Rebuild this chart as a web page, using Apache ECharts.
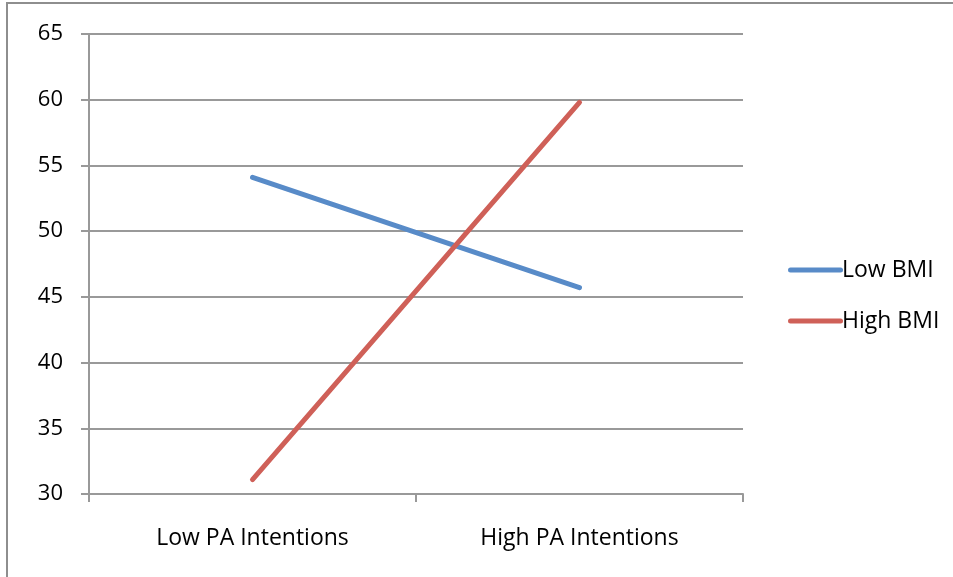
<!DOCTYPE html>
<html>
<head>
<meta charset="utf-8">
<script src="https://cdn.jsdelivr.net/npm/echarts@6/dist/echarts.min.js"></script>
<style>html,body{margin:0;padding:0;background:#fff;}#chart{width:953px;height:577px;}</style>
</head>
<body>
<div id="chart"></div>
<script>
var categories = ["Low PA Intentions", "High PA Intentions"];
var lowBMI = [54.1, 45.7];
var highBMI = [31.1, 59.8];
var seriesNames = ["Low BMI", "High BMI"];

var FONT = "Open Sans";
var chart = echarts.init(document.getElementById('chart'), null, {renderer: 'canvas'});
var axisGray = '#999999';
chart.setOption({
  animation: false,
  backgroundColor: '#ffffff',
  graphic: [{
    type: 'rect', silent: true, z: -1,
    shape: {x: 7, y: 3, width: 1000, height: 700},
    style: {fill: 'none', stroke: '#8e8e8e', lineWidth: 2}
  }],
  grid: {left: 89, top: 34, right: 210, bottom: 83, containLabel: false},
  legend: {
    orient: 'vertical', left: 783, top: 252,
    itemWidth: 55, itemHeight: 5, itemGap: 25,
    icon: 'path://M2.5,0 L52.5,0 A2.5,2.5 0 0 1 52.5,5 L2.5,5 A2.5,2.5 0 0 1 2.5,0 Z',
    textStyle: {fontFamily: FONT, fontSize: 23, color: '#000', lineHeight: 26, padding: [0,0,0,-6]},
    data: seriesNames
  },
  xAxis: {
    type: 'category', data: categories, boundaryGap: true,
    axisLine: {lineStyle: {color: axisGray, width: 2}},
    axisTick: {show: true, length: 8, lineStyle: {color: axisGray, width: 2}},
    axisLabel: {fontFamily: FONT, fontSize: 23, color: '#000', margin: 33},
    splitLine: {show: false}
  },
  yAxis: {
    type: 'value', min: 30, max: 65, interval: 5,
    axisLine: {show: true, lineStyle: {color: axisGray, width: 2}},
    axisTick: {show: true, length: 8, lineStyle: {color: axisGray, width: 2}},
    axisLabel: {fontFamily: FONT, fontSize: 22, color: '#000', margin: 26, padding: [5,0,0,0]},
    splitLine: {show: true, lineStyle: {color: axisGray, width: 2}}
  },
  series: [
    {name: seriesNames[0], type: 'line', data: lowBMI, symbol: 'none',
     lineStyle: {color: '#588bc8', width: 5, cap: 'round'}, itemStyle: {color: '#588bc8'}},
    {name: seriesNames[1], type: 'line', data: highBMI, symbol: 'none',
     lineStyle: {color: '#cf6058', width: 5, cap: 'round'}, itemStyle: {color: '#cf6058'}}
  ]
});
</script>
</body>
</html>
